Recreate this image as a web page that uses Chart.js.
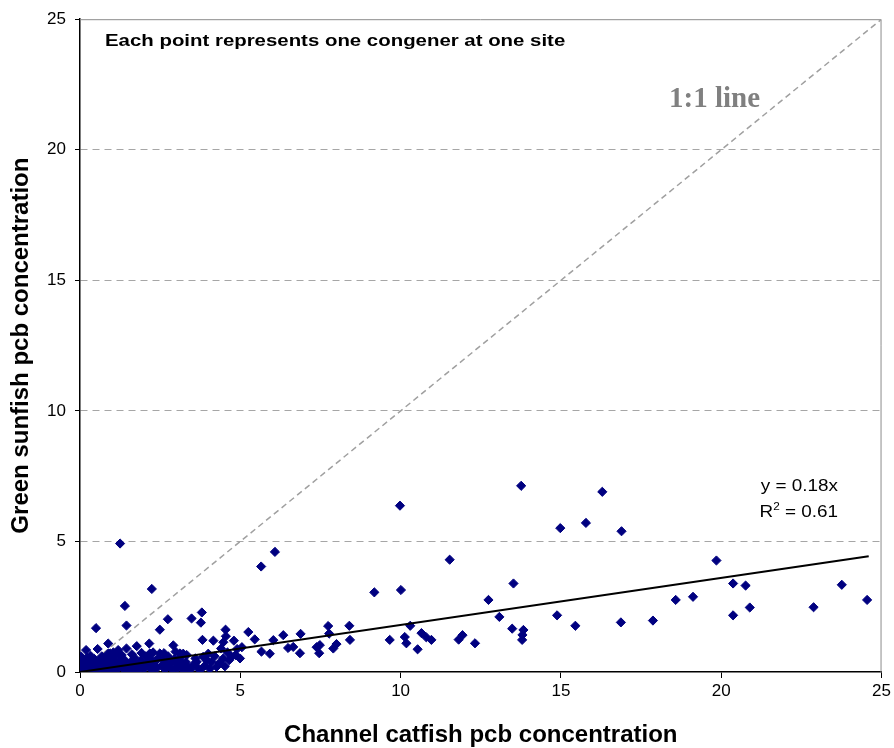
<!DOCTYPE html>
<html>
<head>
<meta charset="utf-8">
<script src="https://cdn.jsdelivr.net/npm/chart.js@4/dist/chart.umd.min.js"></script>
<style>
  html, body { margin: 0; padding: 0; background: #fff; }
  #wrap { width: 894px; height: 748px; }
</style>
</head>
<body>
<div id="wrap"><canvas id="chart" width="894" height="748"></canvas></div>
<script>
// Channel catfish (x) vs green sunfish (y) pcb concentration, one point per congener per site
const catfishX = [
  // outliers and mid range
  1.25, 2.24, 1.40, 1.45, 0.50, 2.74, 2.49, 3.48, 3.80, 3.77, 3.82, 5.65, 6.08, 5.25, 5.45, 4.54,
  4.55, 4.47, 4.16, 4.80, 5.66, 5.92, 6.03, 6.34, 6.49, 6.65, 6.86, 6.88, 7.38, 7.48, 7.46, 7.74,
  7.77, 7.90, 8.00, 8.40, 8.42, 9.18, 9.66, 9.98, 10.01, 10.13, 10.18, 10.30, 10.53, 10.65, 10.80, 10.96,
  11.53, 11.81, 11.93, 12.32, 12.74, 13.08, 13.48, 13.52, 13.76, 13.80, 13.83, 13.79, 14.88, 14.98, 15.45, 15.78,
  16.29, 16.87, 16.89, 17.87, 18.58, 19.12, 19.85, 20.37, 20.37, 20.76, 20.89, 22.88, 23.76, 24.55,
  // upper edge of the low cluster
  0.88, 0.19, 0.55, 1.77, 2.16, 2.91, 1.04, 1.30, 1.92, 2.49, 3.22, 3.33, 3.84, 4.00, 4.10, 4.26,
  4.47, 4.73, 4.99, 3.64, 3.69, 3.17, 4.52, 1.19, 1.45, 0.94, 2.18, 3.12,
  // dense cluster near the origin
  0.02, 0.05, 0.08, 0.10, 0.12, 0.15, 0.18, 0.20, 0.22, 0.25, 0.28, 0.30, 0.32, 0.35, 0.38, 0.40,
  0.42, 0.45, 0.48, 0.03, 0.06, 0.09, 0.14, 0.16, 0.24, 0.33, 0.05, 0.10, 0.01,
  0.52, 0.55, 0.60, 0.62, 0.65, 0.70, 0.72, 0.75, 0.80, 0.82, 0.85, 0.90, 0.95, 1.00, 1.02, 1.05,
  1.10, 1.15, 1.20, 1.25, 1.30, 1.35, 1.40, 1.45, 1.50, 0.68, 0.88, 1.12,
  1.55, 1.60, 1.65, 1.70, 1.75, 1.80, 1.85, 1.90, 1.95, 2.00, 2.05, 2.10, 2.15, 2.20, 2.25, 2.30,
  2.35, 2.40, 2.45, 1.62, 2.28,
  2.55, 2.60, 2.65, 2.70, 2.75, 2.80, 2.85, 2.90, 2.95, 3.00, 3.05, 3.10, 3.15, 3.20, 3.25, 3.30,
  3.38, 3.45, 2.62, 2.98,
  3.55, 3.60, 3.75, 3.90, 3.95, 4.05, 4.20, 4.35, 4.60, 4.65, 4.85, 4.90, 5.05, 4.40
];
const sunfishY = [
  4.92, 3.18, 2.53, 1.78, 1.68, 2.02, 1.62, 2.05, 2.28, 1.89, 1.23, 4.04, 4.60, 1.53, 1.25, 1.62,
  1.37, 1.14, 1.20, 1.20, 0.78, 0.70, 1.22, 1.41, 0.92, 0.96, 0.72, 1.46, 0.95, 1.03, 0.72, 1.76,
  1.47, 0.90, 1.07, 1.77, 1.23, 3.05, 1.23, 6.37, 3.14, 1.34, 1.10, 1.77, 0.87, 1.49, 1.33, 1.23,
  4.30, 1.24, 1.41, 1.10, 2.76, 2.11, 1.66, 3.39, 7.13, 1.42, 1.61, 1.23, 2.17, 5.51, 1.77, 5.71,
  6.90, 1.90, 5.39, 1.97, 2.76, 2.88, 4.27, 3.39, 2.17, 3.31, 2.47, 2.48, 3.34, 2.76,
  1.09, 0.84, 0.88, 0.99, 1.09, 1.02, 0.75, 0.65, 0.73, 0.71, 0.70, 0.65, 0.58, 0.70, 0.39, 0.20,
  0.52, 0.58, 0.52, 0.39, 0.14, 0.20, 0.22, 0.84, 0.90, 0.71, 0.71, 0.71,
  0.05, 0.15, 0.30, 0.45, 0.02, 0.20, 0.10, 0.35, 0.55, 0.05, 0.25, 0.12, 0.40, 0.03, 0.18, 0.30,
  0.08, 0.50, 0.15, 0.60, 0.38, 0.22, 0.08, 0.42, 0.18, 0.62, 0.02, 0.10, 0.25,
  0.05, 0.30, 0.12, 0.45, 0.22, 0.05, 0.35, 0.15, 0.55, 0.25, 0.08, 0.40, 0.18, 0.30, 0.05, 0.50,
  0.20, 0.10, 0.38, 0.60, 0.25, 0.12, 0.45, 0.30, 0.08, 0.60, 0.70, 0.68,
  0.22, 0.40, 0.10, 0.55, 0.30, 0.05, 0.18, 0.45, 0.28, 0.12, 0.60, 0.35, 0.20, 0.50, 0.08, 0.30,
  0.42, 0.15, 0.55, 0.68, 0.75,
  0.25, 0.45, 0.10, 0.35, 0.60, 0.20, 0.40, 0.08, 0.50, 0.30, 0.15, 0.45, 0.60, 0.25, 0.05, 0.38,
  0.18, 0.10, 0.72, 0.78,
  0.30, 0.52, 0.08, 0.25, 0.45, 0.12, 0.60, 0.35, 0.75, 0.45, 0.65, 0.88, 0.95, 0.90
];

// fitted trend (y = 0.18x) and the 1:1 reference line
const trendX = [0, 24.6];
const trendY = [0, 4.43];
const oneToOneX = [0, 25];
const oneToOneY = [0, 25];

const axisTicks = [0, 5, 10, 15, 20, 25];

const xTitle = 'Channel catfish pcb concentration';
const yTitle = 'Green sunfish pcb concentration';
const noteText = 'Each point represents one congener at one site';
const lineLabel = '1:1 line';
const eqText = 'y = 0.18x';
const r2Text = '0.61';

const toPoints = (xs, ys) => xs.map((x, i) => ({ x: x, y: ys[i] }));

const SANS = '"Liberation Sans", Arial, sans-serif';

// gray frame on top and right of the plot area
const framePlugin = {
  id: 'frame',
  beforeDatasetsDraw(chart) {
    const { ctx, chartArea: a } = chart;
    ctx.save();
    ctx.strokeStyle = '#8c8c8c';
    ctx.lineWidth = 1;
    ctx.beginPath();
    ctx.moveTo(a.left, a.top + 0.5);
    ctx.lineTo(a.right - 0.5, a.top + 0.5);
    ctx.lineTo(a.right - 0.5, a.bottom);
    ctx.stroke();
    ctx.restore();
  }
};

// text notes; the sans text in the original is drawn a little wide
function wideText(ctx, text, x, y, sx, align) {
  ctx.save();
  ctx.translate(x, y);
  ctx.scale(sx, 1);
  ctx.textAlign = align || 'left';
  ctx.fillText(text, 0, 0);
  ctx.restore();
}

const notesPlugin = {
  id: 'notes',
  afterDraw(chart) {
    const { ctx, chartArea: a } = chart;
    ctx.save();
    ctx.textBaseline = 'alphabetic';
    ctx.fillStyle = '#000';
    ctx.font = 'bold 17px ' + SANS;
    wideText(ctx, noteText, a.left + 25, a.top + 27, 1.2);

    ctx.fillStyle = '#808080';
    ctx.font = 'bold 29px "Liberation Serif", "Times New Roman", serif';
    ctx.textAlign = 'left';
    ctx.fillText(lineLabel, a.left + 589, a.top + 88);

    // equation, right aligned
    const sx = 1.18;
    const right = a.left + 758;
    ctx.fillStyle = '#000';
    ctx.font = '16px ' + SANS;
    wideText(ctx, eqText, right, a.top + 472, sx, 'right');

    const base = a.top + 498;
    const wR = ctx.measureText('R').width;
    const wRest = ctx.measureText(' = ' + r2Text).width;
    ctx.font = '10px ' + SANS;
    const w2 = ctx.measureText('2').width;
    let x0 = right - (wR + w2 + wRest) * sx;
    ctx.font = '16px ' + SANS;
    wideText(ctx, 'R', x0, base, sx);
    x0 += wR * sx;
    ctx.font = '10px ' + SANS;
    wideText(ctx, '2', x0, base - 7, sx);
    x0 += w2 * sx;
    ctx.font = '16px ' + SANS;
    wideText(ctx, ' = ' + r2Text, x0, base, sx);
    ctx.restore();
  }
};

Chart.defaults.font.family = SANS;
Chart.defaults.color = '#000';

new Chart(document.getElementById('chart'), {
  type: 'scatter',
  data: {
    datasets: [
      {
        label: 'Trend',
        type: 'line',
        data: toPoints(trendX, trendY),
        borderColor: '#000',
        borderWidth: 2,
        pointRadius: 0,
        fill: false,
        order: 0
      },
      {
        label: 'Congener at site',
        data: toPoints(catfishX, sunfishY),
        pointStyle: 'rectRot',
        pointRadius: 4.6,
        pointBackgroundColor: '#000080',
        pointBorderColor: '#000080',
        pointBorderWidth: 1,
        order: 1
      },
      {
        label: '1:1 line',
        type: 'line',
        data: toPoints(oneToOneX, oneToOneY),
        borderColor: '#a0a0a0',
        borderWidth: 1.5,
        borderDash: [6, 4],
        pointRadius: 0,
        fill: false,
        order: 2
      }
    ]
  },
  options: {
    responsive: false,
    animation: false,
    layout: { padding: { top: 15, right: 12, left: 0, bottom: 0 } },
    plugins: {
      legend: { display: false },
      tooltip: { enabled: false }
    },
    scales: {
      x: {
        type: 'linear',
        min: 0,
        max: 25,
        afterBuildTicks: (scale) => { scale.ticks = axisTicks.map(v => ({ value: v })); },
        afterFit: (scale) => { scale.height = 76; },
        grid: {
          drawOnChartArea: false,
          drawTicks: true,
          tickLength: 6,
          tickColor: '#000'
        },
        border: { color: '#000', width: 1.5 },
        ticks: { font: { size: 17 }, padding: 3, maxRotation: 0 },
        title: {
          display: true,
          text: xTitle,
          font: { size: 24, weight: 'bold' },
          padding: { top: 0, bottom: -2 }
        }
      },
      y: {
        type: 'linear',
        min: 0,
        max: 25,
        afterBuildTicks: (scale) => { scale.ticks = axisTicks.map(v => ({ value: v })); },
        afterFit: (scale) => { scale.width = 80; },
        grid: {
          color: (c) => (c.tick && (c.tick.value === 0 || c.tick.value === 25)) ? 'rgba(0,0,0,0)' : '#a6a6a6',
          lineWidth: 1,
          drawTicks: true,
          tickLength: 5,
          tickColor: '#000'
        },
        border: { color: '#000', width: 1.5, dash: [7, 5] },
        ticks: { font: { size: 17 }, padding: 9 },
        title: {
          display: true,
          text: yTitle,
          font: { size: 24, weight: 'bold' },
          padding: { top: 7, bottom: 0 }
        }
      }
    }
  },
  plugins: [framePlugin, notesPlugin]
});
</script>
</body>
</html>
